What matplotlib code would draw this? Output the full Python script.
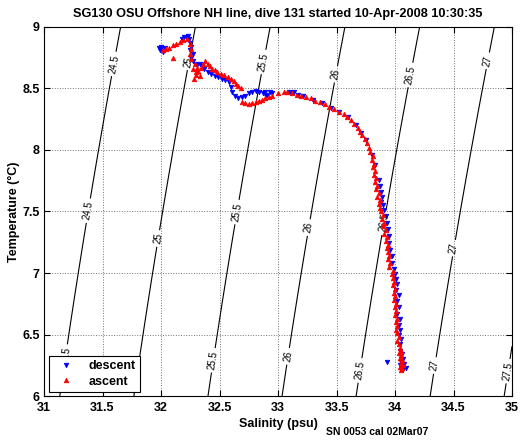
#!/usr/bin/env python
# -*- coding: utf-8 -*-
"""
T-S diagram of one glider dive with sigma-t contours
"""
import numpy as np
import matplotlib
matplotlib.use('Agg')
import matplotlib.pyplot as plt

# descent (blue) points: salinity (psu), temperature (C)
descent_pts = np.array([
    [31.98, 8.83], [31.99, 8.81], [32.00, 8.84], [32.01, 8.82], [32.02, 8.80], [32.03, 8.83],
    [32.18, 8.90], [32.20, 8.92], [32.22, 8.91], [32.23, 8.93], [32.24, 8.90], [32.25, 8.87],
    [32.26, 8.84], [32.25, 8.81], [32.27, 8.78], [32.26, 8.75], [32.27, 8.72],
    [32.29, 8.70], [32.31, 8.69], [32.33, 8.70], [32.35, 8.68], [32.37, 8.66],
    [32.40, 8.63], [32.43, 8.62], [32.46, 8.60], [32.49, 8.59], [32.52, 8.58], [32.55, 8.57], [32.58, 8.55],
    [32.60, 8.51], [32.61, 8.47], [32.63, 8.44], [32.66, 8.42], [32.69, 8.43], [32.72, 8.44],
    [32.75, 8.46], [32.78, 8.47], [32.81, 8.48], [32.84, 8.47],
    [32.87, 8.46], [32.89, 8.47], [32.91, 8.45], [32.93, 8.47], [32.95, 8.46], [32.90, 8.44],
    [33.09, 8.47], [33.11, 8.46], [33.14, 8.47], [33.17, 8.45], [33.21, 8.44],
    [33.30, 8.41], [33.38, 8.38], [33.45, 8.34], [33.52, 8.31], [33.60, 8.27], [33.67, 8.20],
    [33.71, 8.14], [33.75, 8.08],
    [33.80, 7.96], [33.83, 7.88], [33.86, 7.76], [33.87, 7.71], [33.88, 7.66], [33.89, 7.62],
    [33.88, 7.58], [33.90, 7.55], [33.91, 7.51],
    [33.92, 7.46], [33.93, 7.41], [33.94, 7.36], [33.95, 7.30], [33.95, 7.24], [33.96, 7.19],
    [33.97, 7.14], [33.97, 7.08], [33.99, 7.03], [34.00, 6.99], [34.01, 6.95],
    [34.02, 6.91], [34.01, 6.86], [34.03, 6.82], [34.02, 6.77], [34.03, 6.72], [34.02, 6.67],
    [34.04, 6.63], [34.03, 6.58], [34.04, 6.54], [34.03, 6.50], [34.05, 6.46], [34.04, 6.42],
    [33.93, 6.28], [34.04, 6.37], [34.06, 6.34], [34.07, 6.30], [34.05, 6.28], [34.08, 6.26],
    [34.06, 6.24], [34.09, 6.23], [34.07, 6.22], [34.04, 6.25],
])

# ascent (red) points: salinity (psu), temperature (C)
ascent_pts = np.array([
    [34.05, 6.21], [34.06, 6.23], [34.04, 6.24], [34.07, 6.25], [34.05, 6.27], [34.06, 6.29],
    [34.04, 6.31], [34.05, 6.33], [34.03, 6.35], [34.05, 6.37], [34.04, 6.39],
    [34.03, 6.42], [34.02, 6.45], [34.03, 6.48], [34.02, 6.51], [34.01, 6.54], [34.02, 6.57],
    [34.01, 6.60], [34.02, 6.63], [34.00, 6.66], [34.01, 6.69], [34.00, 6.72], [34.01, 6.75],
    [33.99, 6.78], [34.00, 6.81], [33.99, 6.84], [34.00, 6.87], [33.98, 6.90], [33.99, 6.93],
    [33.98, 6.96], [33.97, 6.99], [33.98, 7.02],
    [33.95, 7.05], [33.96, 7.08], [33.94, 7.11],
    [33.95, 7.14], [33.94, 7.17], [33.93, 7.20], [33.94, 7.23], [33.92, 7.26], [33.93, 7.29],
    [33.91, 7.32], [33.92, 7.35], [33.90, 7.38], [33.91, 7.41], [33.89, 7.44], [33.90, 7.47],
    [33.88, 7.50],
    [33.87, 7.53], [33.86, 7.56], [33.87, 7.59], [33.85, 7.62], [33.86, 7.65], [33.84, 7.68],
    [33.85, 7.71], [33.83, 7.74], [33.84, 7.77], [33.82, 7.80], [33.83, 7.83], [33.81, 7.86],
    [33.82, 7.89], [33.80, 7.92], [33.81, 7.95], [33.79, 7.98],
    [33.78, 8.02], [33.76, 8.06], [33.74, 8.09], [33.72, 8.12], [33.70, 8.15], [33.68, 8.18],
    [33.65, 8.21], [33.62, 8.24], [33.59, 8.27], [33.56, 8.29], [33.52, 8.31], [33.48, 8.33],
    [33.44, 8.35], [33.40, 8.37], [33.36, 8.39], [33.32, 8.40], [33.28, 8.42], [33.24, 8.43],
    [33.20, 8.44], [33.16, 8.45], [33.12, 8.46], [33.08, 8.47], [33.05, 8.47],
    [33.00, 8.46],
    [32.95, 8.44], [32.92, 8.43], [32.89, 8.42], [32.86, 8.41],
    [32.84, 8.40], [32.81, 8.39], [32.78, 8.38], [32.75, 8.37], [32.72, 8.38], [32.69, 8.39],
    [32.38, 8.72], [32.40, 8.70], [32.42, 8.68], [32.44, 8.66], [32.46, 8.65], [32.48, 8.63],
    [32.51, 8.62], [32.54, 8.61], [32.57, 8.59], [32.60, 8.58], [32.62, 8.56], [32.64, 8.54],
    [32.66, 8.52], [32.68, 8.50],
    [32.36, 8.70], [32.34, 8.67], [32.32, 8.64], [32.30, 8.61], [32.28, 8.58], [32.30, 8.63],
    [32.31, 8.67], [32.29, 8.70], [32.27, 8.66], [32.33, 8.60],
    [32.26, 8.74], [32.25, 8.78], [32.26, 8.82], [32.25, 8.86],
    [32.22, 8.90], [32.19, 8.89], [32.16, 8.88], [32.13, 8.86], [32.10, 8.85], [32.07, 8.83],
    [32.04, 8.82], [32.02, 8.81], [32.10, 8.75],
])

sigma_levels = [24.5, 25.0, 25.5, 26.0, 26.5, 27.0, 27.5]
sal_ticks = [31, 31.5, 32, 32.5, 33, 33.5, 34, 34.5, 35]
temp_ticks = [6, 6.5, 7, 7.5, 8, 8.5, 9]

# where MATLAB put the contour labels (S, T)
label_pos = [
    (31.65, 8.69), (31.42, 7.50), (31.19, 6.32),
    (32.22, 8.72), (31.98, 7.28),
    (32.85, 8.72), (32.62, 7.50), (32.45, 6.29),
    (33.53, 8.61), (33.26, 7.37), (33.04, 6.33),
    (34.13, 8.61), (33.90, 7.41), (33.69, 6.21),
    (34.77, 8.73), (34.58, 7.19), (34.33, 6.25),
    (34.98, 6.20),
]


def sigma_t(S, T):
    """
    UNESCO 1983 density at surface pressure, minus 1000
    """
    rho_w = (999.842594 + 6.793952e-2*T - 9.095290e-3*T**2 + 1.001685e-4*T**3
             - 1.120083e-6*T**4 + 6.536332e-9*T**5)
    A = 8.24493e-1 - 4.0899e-3*T + 7.6438e-5*T**2 - 8.2467e-7*T**3 + 5.3875e-9*T**4
    B = -5.72466e-3 + 1.0227e-4*T - 1.6546e-6*T**2
    C = 4.8314e-4
    return rho_w + A*S + B*S**1.5 + C*S**2 - 1000.


plt.rcParams['font.family'] = ['Liberation Sans', 'DejaVu Sans']

fig = plt.figure(figsize=(5.22, 4.42), dpi=100)
ax = fig.add_axes([0.0843, 0.104, 0.8966, 0.835])

ss, tt = np.meshgrid(np.linspace(31, 35, 200), np.linspace(6, 9, 200))
cs = ax.contour(ss, tt, sigma_t(ss, tt), levels=sigma_levels, colors='k', linewidths=0.8)
ax.clabel(cs, manual=label_pos, inline=True, inline_spacing=3, fontsize=7, fmt='%g')

ax.plot(descent_pts[:, 0], descent_pts[:, 1], 'v', color='#0000ff', ms=3.2, mew=0.6,
        label='descent', zorder=3)
ax.plot(ascent_pts[:, 0], ascent_pts[:, 1], '^', color='#ff0000', ms=3.2, mew=0.6,
        label='ascent', zorder=4)

ax.set_xlim(31, 35)
ax.set_ylim(6, 9)
ax.set_xticks(sal_ticks)
ax.set_xticklabels(['%g' % v for v in sal_ticks])
ax.set_yticks(temp_ticks)
ax.set_yticklabels(['%g' % v for v in temp_ticks])
ax.tick_params(direction='in', top=True, right=True, length=4, width=0.8,
               labelsize=9)
ax.tick_params(axis='x', pad=4)
ax.tick_params(axis='y', pad=3)
for lab in ax.get_xticklabels() + ax.get_yticklabels():
    lab.set_fontweight('bold')
ax.grid(True, color='0.45', linestyle=':', linewidth=0.7)
for sp in ax.spines.values():
    sp.set_linewidth(0.8)

ax.set_xlabel('Salinity (psu)', fontsize=9, fontweight='bold', labelpad=3)
ax.set_ylabel('Temperature (\u00b0C)', fontsize=9, fontweight='bold')
ax.yaxis.set_label_coords(-0.051, 0.5)
ax.set_title('SG130 OSU Offshore NH line, dive 131 started 10-Apr-2008 10:30:35',
             fontsize=9.2, fontweight='bold', pad=7)

leg = ax.legend(loc='lower left', fancybox=False, edgecolor='k', framealpha=1,
                prop={'size': 9, 'weight': 'bold'}, handlelength=2.0,
                handletextpad=0.8, borderpad=0.35, labelspacing=0.25,
                borderaxespad=0, bbox_to_anchor=(0.0107, 0.011))
leg.get_frame().set_linewidth(0.8)

fig.text(0.722, 0.023, 'SN 0053 cal 02Mar07', fontsize=7.5, fontweight='bold',
         ha='center', va='center')

fig.savefig('out.png', dpi=100)
